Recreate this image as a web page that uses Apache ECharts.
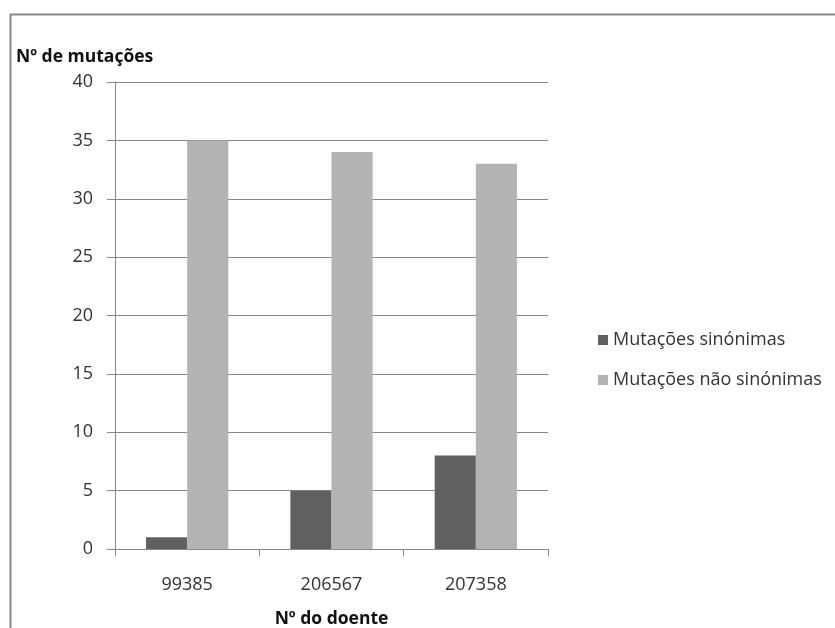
<!DOCTYPE html>
<html>
<head>
<meta charset="utf-8">
<script src="https://cdn.jsdelivr.net/npm/echarts@6/dist/echarts.min.js"></script>
<style>
  html, body { margin: 0; padding: 0; background: #fff; }
  #chart { width: 835px; height: 628px; }
</style>
</head>
<body>
<div id="chart"></div>
<script>
// Patient IDs on the category axis
const doentes = ['99385', '206567', '207358'];
// Mutation counts per patient
const sinonimas = [1, 5, 8];
const naoSinonimas = [35, 34, 33];
// Value axis range
const yMin = 0, yMax = 40, yStep = 5;

const FONT = 'Open Sans';
const chart = echarts.init(document.getElementById('chart'), null, { renderer: 'canvas' });

chart.setOption({
  animation: false,
  backgroundColor: '#ffffff',
  textStyle: { fontFamily: FONT },
  graphic: [{
    type: 'rect',
    left: 8, top: 12,
    shape: { width: 900, height: 700 },
    style: { fill: 'none', stroke: '#878787', lineWidth: 2 },
    silent: true
  }],
  title: {
    text: 'Nº de mutações',
    left: 16, top: 48,
    padding: 0,
    textStyle: { fontFamily: FONT, fontSize: 17.5, fontWeight: 'bold', color: '#111' }
  },
  legend: {
    orient: 'vertical',
    left: 598, top: 331,
    padding: 0,
    itemWidth: 10, itemHeight: 10,
    itemGap: 22,
    icon: 'rect',
    textStyle: { fontFamily: FONT, fontSize: 18, color: '#333' },
    data: ['Mutações sinónimas', 'Mutações não sinónimas']
  },
  grid: { left: 115, right: 287, top: 82, bottom: 79, containLabel: false, outerBoundsMode: 'none' },
  xAxis: {
    type: 'category',
    data: doentes,
    name: 'Nº do doente',
    nameLocation: 'middle',
    nameGap: 61,
    nameTextStyle: { fontFamily: FONT, fontSize: 17.5, fontWeight: 'bold', color: '#111' },
    axisLine: { lineStyle: { color: '#878787', width: 1 } },
    axisTick: { show: true, length: 7, alignWithLabel: false, lineStyle: { color: '#878787' } },
    axisLabel: { fontFamily: FONT, fontSize: 18, color: '#333', margin: 27 }
  },
  yAxis: {
    type: 'value',
    min: yMin, max: yMax, interval: yStep,
    axisLine: { show: true, lineStyle: { color: '#878787', width: 1 } },
    axisTick: { show: true, length: 8, lineStyle: { color: '#878787' } },
    axisLabel: { fontFamily: FONT, fontSize: 18, color: '#333', margin: 22 },
    splitLine: { show: true, lineStyle: { color: '#878787', width: 1 } }
  },
  series: [
    {
      name: 'Mutações sinónimas',
      type: 'bar',
      data: sinonimas,
      barGap: '0%',
      barCategoryGap: '43%',
      itemStyle: { color: '#606060' }
    },
    {
      name: 'Mutações não sinónimas',
      type: 'bar',
      data: naoSinonimas,
      barGap: '0%',
      barCategoryGap: '43%',
      itemStyle: { color: '#b3b3b3' }
    }
  ]
});
</script>
</body>
</html>
